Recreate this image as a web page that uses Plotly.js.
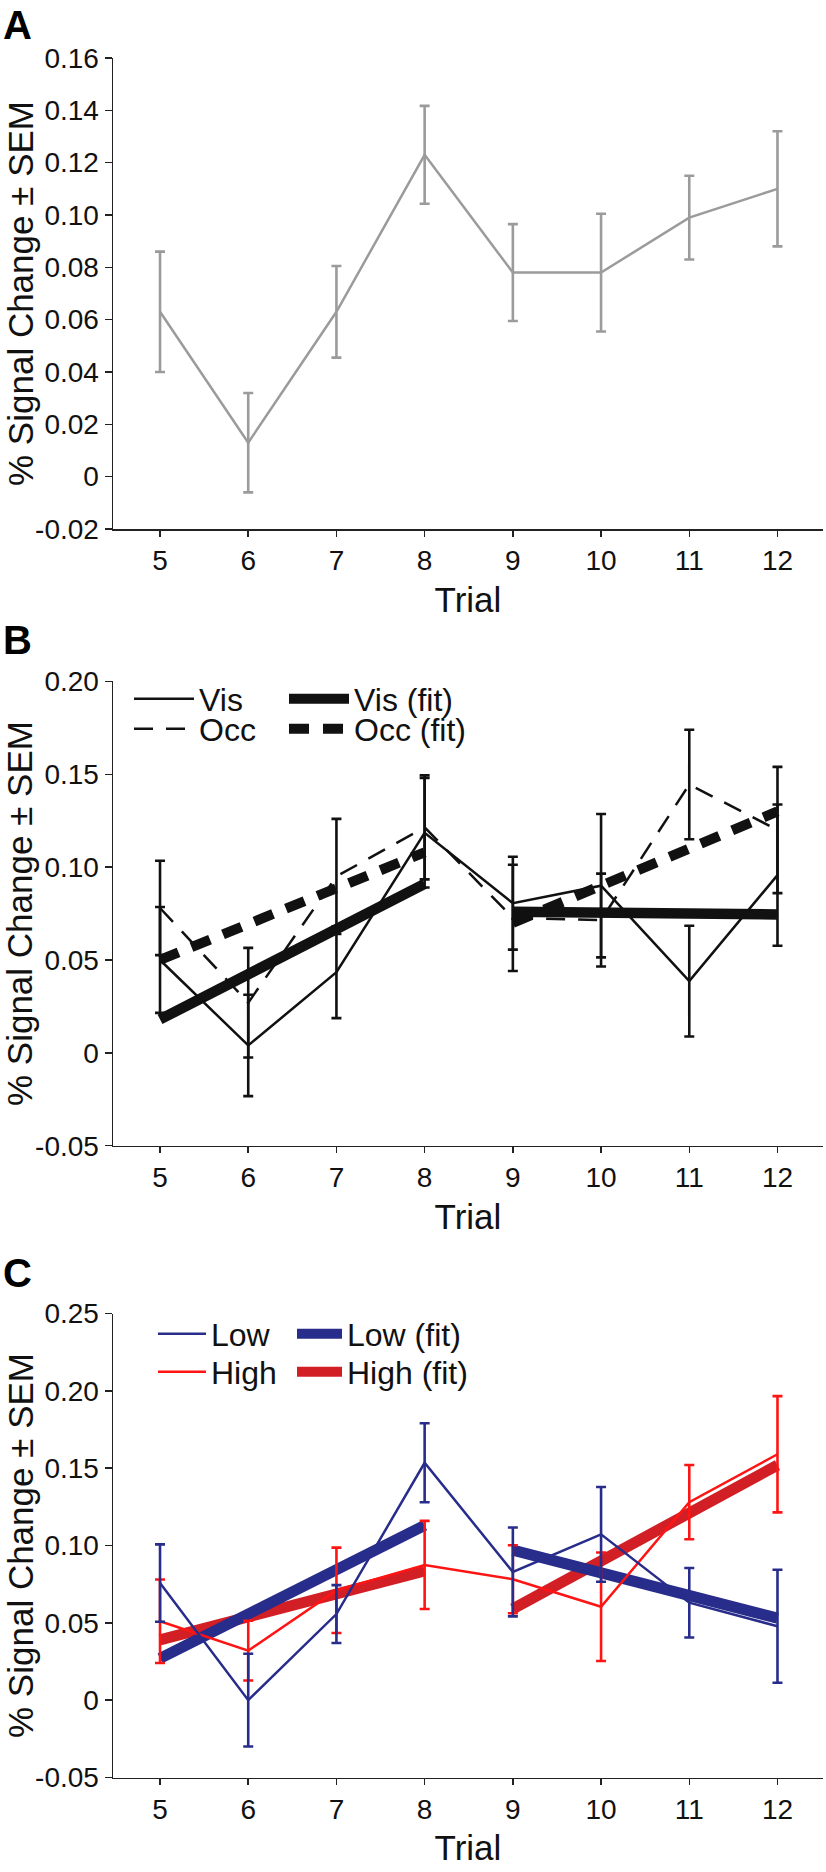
<!DOCTYPE html>
<html><head><meta charset="utf-8">
<script src="https://cdn.plot.ly/plotly-3.0.1.min.js"></script>
<style>html,body{margin:0;padding:0;background:#fff}#chart{width:826px;height:1872px}</style>
</head><body><div id="chart"></div>
<script>
// ---------- data ----------
const trials = [5, 6, 7, 8, 9, 10, 11, 12];
const fitLeftX = [5, 8];
const fitRightX = [9, 12];

// Panel A (all trials)
const allMean = [0.063, 0.013, 0.063, 0.123, 0.078, 0.078, 0.099, 0.110];
const allSem  = [0.023, 0.019, 0.0175, 0.0187, 0.0185, 0.0225, 0.016, 0.022];

// Panel B (Vis / Occ)
const visMean = [0.050, 0.004, 0.0434, 0.1185, 0.0806, 0.090, 0.0386, 0.0957];
const visSem  = [0.0285, 0.0273, 0.0247, 0.0295, 0.025, 0.0386, 0.0298, 0.038];
const occMean = [0.078, 0.027, 0.095, 0.1214, 0.0727, 0.0715, 0.1445, 0.120];
const occSem  = [0.0254, 0.0295, 0.031, 0.028, 0.0286, 0.025, 0.0295, 0.034];
const visFitLeft  = [0.018, 0.091];
const visFitRight = [0.076, 0.0745];
const occFitLeft  = [0.050, 0.108];
const occFitRight = [0.070, 0.130];

// Panel C (Low / High)
const lowMean  = [0.0757, 0.0, 0.0557, 0.1535, 0.0829, 0.1072, 0.063, 0.0478];
const lowSem   = [0.025, 0.030, 0.0187, 0.0255, 0.0287, 0.0306, 0.0225, 0.0365];
const highMean = [0.051, 0.032, 0.071, 0.0874, 0.0782, 0.0604, 0.128, 0.159];
const highSem  = [0.027, 0.0193, 0.0276, 0.0285, 0.022, 0.0351, 0.024, 0.0376];
const lowFitLeft   = [0.027, 0.113];
const lowFitRight  = [0.097, 0.053];
const highFitLeft  = [0.039, 0.0835];
const highFitRight = [0.059, 0.152];

// tick labels
const ticksA = [-0.02, 0, 0.02, 0.04, 0.06, 0.08, 0.10, 0.12, 0.14, 0.16];
const tickTextA = ['-0.02', '0', '0.02', '0.04', '0.06', '0.08', '0.10', '0.12', '0.14', '0.16'];
const ticksB = [-0.05, 0, 0.05, 0.10, 0.15, 0.20];
const tickTextB = ['-0.05', '0', '0.05', '0.10', '0.15', '0.20'];
const ticksC = [-0.05, 0, 0.05, 0.10, 0.15, 0.20, 0.25];
const tickTextC = ['-0.05', '0', '0.05', '0.10', '0.15', '0.20', '0.25'];

// ---------- styling ----------
const W = 826, H = 1872;
const FONT = 'Liberation Sans, Arial, Helvetica, sans-serif';
const GREY = '#9b9b9b', BLACK = '#111111', NAVY = '#282c8a', RED = '#ff1414', DRED = '#d21f26';
const px = v => v / W;
const py = v => 1 - v / H;

function errBar(arr, color) {
  return {type: 'data', array: arr, visible: true, color: color, thickness: 2.6, width: 5};
}
function dataTrace(y, sem, color, dash, xa, ya, name, leg) {
  return {x: trials, y: y, type: 'scatter', mode: 'lines', name: name,
    line: {color: color, width: 2.5, dash: dash},
    error_y: errBar(sem, color), xaxis: xa, yaxis: ya,
    showlegend: !!leg, legend: leg || 'legend', hoverinfo: 'x+y'};
}
function fitTrace(xs, ys, color, dash, xa, ya, name, leg, w) {
  return {x: xs, y: ys, type: 'scatter', mode: 'lines', name: name,
    line: {color: color, width: w, dash: dash},
    xaxis: xa, yaxis: ya, showlegend: !!leg, legend: leg || 'legend', hoverinfo: 'x+y'};
}

const THIN_DASH = '19px,13px';
const THICK_DASH = '20px,14px';

const traces = [
  // A
  dataTrace(allMean, allSem, GREY, 'solid', 'x', 'y', 'All', null),
  // B fits
  fitTrace(fitLeftX, visFitLeft, BLACK, 'solid', 'x2', 'y2', 'Vis (fit)', 'legend3', 10.5),
  fitTrace(fitRightX, visFitRight, BLACK, 'solid', 'x2', 'y2', 'Vis (fit)', null, 10.5),
  fitTrace(fitLeftX, occFitLeft, BLACK, THICK_DASH, 'x2', 'y2', 'Occ (fit)', 'legend4', 10),
  fitTrace(fitRightX, occFitRight, BLACK, THICK_DASH, 'x2', 'y2', 'Occ (fit)', null, 10),
  // B data
  dataTrace(visMean, visSem, BLACK, 'solid', 'x2', 'y2', 'Vis', 'legend'),
  dataTrace(occMean, occSem, BLACK, THIN_DASH, 'x2', 'y2', 'Occ', 'legend2'),
  // C fits
  fitTrace(fitLeftX, highFitLeft, DRED, 'solid', 'x3', 'y3', 'High (fit)', 'legend8', 11),
  fitTrace(fitRightX, highFitRight, DRED, 'solid', 'x3', 'y3', 'High (fit)', null, 11),
  fitTrace(fitLeftX, lowFitLeft, NAVY, 'solid', 'x3', 'y3', 'Low (fit)', 'legend7', 11),
  fitTrace(fitRightX, lowFitRight, NAVY, 'solid', 'x3', 'y3', 'Low (fit)', null, 11),
  // C data
  dataTrace(highMean, highSem, RED, 'solid', 'x3', 'y3', 'High', 'legend6'),
  dataTrace(lowMean, lowSem, NAVY, 'solid', 'x3', 'y3', 'Low', 'legend5'),
];

const xRange = [4.467, 12.516];
function xAxis(anchor) {
  return {domain: [px(113), px(823)], anchor: anchor, range: xRange,
    tickvals: trials, ticktext: trials.map(String),
    showline: true, linecolor: '#222', linewidth: 1.5, mirror: false,
    ticks: 'outside', ticklen: 6, tickwidth: 1.5, tickcolor: '#222',
    showgrid: false, zeroline: false,
    tickfont: {family: FONT, size: 28, color: '#111'},
    title: {text: 'Trial', font: {family: FONT, size: 35, color: '#111'}, standoff: 12}};
}
function yAxis(anchor, top, bottom, range, vals, text) {
  return {domain: [py(bottom), py(top)], anchor: anchor, range: range,
    tickvals: vals, ticktext: text,
    showline: true, linecolor: '#222', linewidth: 1.5,
    ticks: 'outside', ticklen: 7, tickwidth: 1.5, tickcolor: '#222',
    showgrid: false, zeroline: false,
    tickfont: {family: FONT, size: 28, color: '#111'},
    title: {text: '% Signal Change \u00b1 SEM', font: {family: FONT, size: 35, color: '#111'}}};
}

function leg(xPix, yPix, iw) {
  return {x: px(xPix), y: py(yPix), xanchor: 'left', yanchor: 'middle',
    bgcolor: 'rgba(0,0,0,0)', borderwidth: 0, itemwidth: iw,
    font: {family: FONT, size: 32, color: '#111'}, itemclick: false, itemdoubleclick: false};
}

function letter(t, yPix) {
  return {text: '<b>' + t + '</b>', xref: 'paper', yref: 'paper', x: px(2), y: py(yPix),
    xanchor: 'left', yanchor: 'middle', showarrow: false, borderpad: 0,
    font: {family: FONT, size: 40, color: '#000'}};
}

const layout = {
  width: W, height: H, margin: {l: 0, r: 0, t: 0, b: 0},
  paper_bgcolor: '#fff', plot_bgcolor: '#fff', showlegend: true,
  font: {family: FONT, color: '#111'},
  xaxis: xAxis('y'),
  yaxis: yAxis('x', 58, 529, [-0.02, 0.16], ticksA, tickTextA),
  xaxis2: xAxis('y2'),
  yaxis2: yAxis('x2', 681.4, 1145.7, [-0.05, 0.20], ticksB, tickTextB),
  xaxis3: xAxis('y3'),
  yaxis3: yAxis('x3', 1313.5, 1777.5, [-0.05, 0.25], ticksC, tickTextC),
  legend: leg(129, 699, 60),
  legend2: leg(129, 729, 60),
  legend3: leg(284, 699, 60),
  legend4: leg(284, 729, 60),
  legend5: leg(153, 1334, 48),
  legend6: leg(153, 1372, 48),
  legend7: leg(292, 1334, 45),
  legend8: leg(292, 1372, 45),
  annotations: [letter('A', 25), letter('B', 640), letter('C', 1273)]
};

Plotly.newPlot('chart', traces, layout, {staticPlot: true, displayModeBar: false});
</script>
</body></html>
